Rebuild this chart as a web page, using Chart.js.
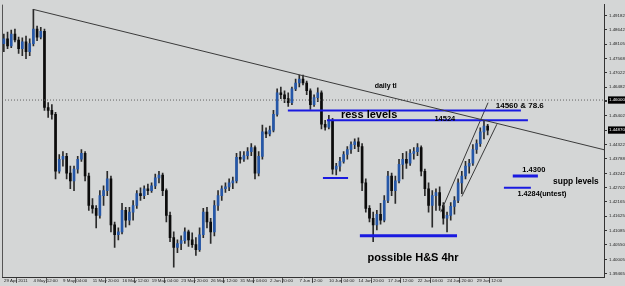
<!DOCTYPE html>
<html>
<head>
<meta charset="utf-8">
<title>EURUSD H4</title>
<script src="https://cdn.jsdelivr.net/npm/chart.js@4.4.1/dist/chart.umd.min.js"></script>
<style>
  html, body { margin: 0; padding: 0; background: #d4d6d6; }
  canvas { display: block; }
</style>
</head>
<body>
<canvas id="chart" width="625" height="286"></canvas>
<script>
// candles, one per 8h slot (x = slot index)
const opens = [
  1.4812, 1.4830, 1.4804, 1.4848, 1.4826, 1.4793, 1.4819, 1.4782, 1.4812, 1.4867,
  1.4837, 1.4859, 1.4572, 1.4561, 1.4546, 1.4332, 1.4377, 1.4388, 1.4325, 1.4296,
  1.4340, 1.4377, 1.4399, 1.4314, 1.4203, 1.4192, 1.4166, 1.4240, 1.4259, 1.4303,
  1.4130, 1.4093, 1.4104, 1.4185, 1.4148, 1.4178, 1.4203, 1.4248, 1.4240, 1.4266,
  1.4259, 1.4277, 1.4307, 1.4318, 1.4259, 1.4166, 1.4082, 1.4045, 1.4060, 1.4071,
  1.4104, 1.4074, 1.4056, 1.4037, 1.4093, 1.4178, 1.4141, 1.4104, 1.4203, 1.4240,
  1.4266, 1.4273, 1.4288, 1.4296, 1.4384, 1.4377, 1.4391, 1.4406, 1.4421, 1.4325,
  1.4388, 1.4480, 1.4472, 1.4487, 1.4546, 1.4627, 1.4620, 1.4605, 1.4590, 1.4642,
  1.4664, 1.4679, 1.4664, 1.4635, 1.4583, 1.4609, 1.4627, 1.4509, 1.4498, 1.4524,
  1.4340, 1.4351, 1.4369, 1.4395, 1.4414, 1.4432, 1.4443, 1.4425, 1.4288, 1.4192,
  1.4155, 1.4130, 1.4170, 1.4148, 1.4222, 1.4314, 1.4259, 1.4296, 1.4358, 1.4377,
  1.4362, 1.4399, 1.4406, 1.4421, 1.4332, 1.4266, 1.4203, 1.4240, 1.4252, 1.4203,
  1.4155, 1.4166, 1.4200, 1.4222, 1.4288, 1.4314, 1.4351, 1.4362, 1.4414, 1.4436,
  1.4480, 1.4502
];
const highs = [
  1.4848, 1.4856, 1.4863, 1.4867, 1.4837, 1.4834, 1.4841, 1.4830, 1.4941, 1.4878,
  1.4874, 1.4867, 1.4590, 1.4583, 1.4554, 1.4395, 1.4406, 1.4399, 1.4351, 1.4351,
  1.4388, 1.4414, 1.4406, 1.4325, 1.4229, 1.4203, 1.4259, 1.4277, 1.4332, 1.4314,
  1.4141, 1.4119, 1.4211, 1.4196, 1.4196, 1.4222, 1.4259, 1.4270, 1.4277, 1.4284,
  1.4288, 1.4321, 1.4332, 1.4325, 1.4266, 1.4178, 1.4104, 1.4074, 1.4089, 1.4119,
  1.4111, 1.4100, 1.4082, 1.4119, 1.4192, 1.4196, 1.4155, 1.4222, 1.4259, 1.4277,
  1.4288, 1.4303, 1.4310, 1.4399, 1.4406, 1.4406, 1.4421, 1.4436, 1.4428, 1.4406,
  1.4506, 1.4495, 1.4502, 1.4561, 1.4642, 1.4649, 1.4635, 1.4627, 1.4649, 1.4679,
  1.4694, 1.4694, 1.4671, 1.4642, 1.4620, 1.4646, 1.4635, 1.4524, 1.4542, 1.4531,
  1.4362, 1.4384, 1.4406, 1.4425, 1.4443, 1.4454, 1.4458, 1.4436, 1.4303, 1.4203,
  1.4178, 1.4185, 1.4211, 1.4240, 1.4332, 1.4325, 1.4314, 1.4377, 1.4399, 1.4406,
  1.4414, 1.4421, 1.4436, 1.4428, 1.4340, 1.4288, 1.4259, 1.4266, 1.4273, 1.4214,
  1.4178, 1.4214, 1.4237, 1.4303, 1.4332, 1.4369, 1.4377, 1.4432, 1.4450, 1.4495,
  1.4524, 1.4509
];
const lows = [
  1.4782, 1.4793, 1.4797, 1.4819, 1.4775, 1.4767, 1.4756, 1.4767, 1.4804, 1.4823,
  1.4830, 1.4561, 1.4535, 1.4528, 1.4303, 1.4325, 1.4351, 1.4303, 1.4266, 1.4259,
  1.4325, 1.4369, 1.4296, 1.4185, 1.4174, 1.4119, 1.4155, 1.4203, 1.4240, 1.4104,
  1.4045, 1.4074, 1.4096, 1.4122, 1.4130, 1.4148, 1.4192, 1.4222, 1.4229, 1.4244,
  1.4252, 1.4266, 1.4288, 1.4240, 1.4141, 1.4067, 1.3971, 1.4026, 1.4037, 1.4060,
  1.4049, 1.4045, 1.4015, 1.4030, 1.4082, 1.4119, 1.4060, 1.4089, 1.4185, 1.4222,
  1.4252, 1.4259, 1.4266, 1.4288, 1.4362, 1.4369, 1.4377, 1.4391, 1.4303, 1.4314,
  1.4377, 1.4458, 1.4465, 1.4480, 1.4539, 1.4605, 1.4590, 1.4576, 1.4583, 1.4635,
  1.4649, 1.4657, 1.4620, 1.4565, 1.4576, 1.4594, 1.4491, 1.4487, 1.4491, 1.4321,
  1.4318, 1.4332, 1.4362, 1.4377, 1.4399, 1.4417, 1.4406, 1.4259, 1.4178, 1.4141,
  1.4067, 1.4111, 1.4133, 1.4141, 1.4214, 1.4240, 1.4211, 1.4288, 1.4303, 1.4343,
  1.4354, 1.4377, 1.4391, 1.4314, 1.4240, 1.4178, 1.4122, 1.4185, 1.4185, 1.4133,
  1.4104, 1.4148, 1.4170, 1.4214, 1.4248, 1.4303, 1.4325, 1.4354, 1.4399, 1.4425,
  1.4454, 1.4469
];
const closes = [
  1.4830, 1.4804, 1.4848, 1.4826, 1.4793, 1.4819, 1.4782, 1.4812, 1.4867, 1.4837,
  1.4859, 1.4572, 1.4561, 1.4546, 1.4332, 1.4377, 1.4388, 1.4325, 1.4296, 1.4340,
  1.4377, 1.4399, 1.4314, 1.4203, 1.4192, 1.4166, 1.4240, 1.4259, 1.4303, 1.4130,
  1.4093, 1.4104, 1.4185, 1.4148, 1.4178, 1.4203, 1.4248, 1.4240, 1.4266, 1.4259,
  1.4277, 1.4307, 1.4318, 1.4259, 1.4166, 1.4082, 1.4045, 1.4060, 1.4071, 1.4104,
  1.4074, 1.4056, 1.4037, 1.4093, 1.4178, 1.4141, 1.4104, 1.4203, 1.4240, 1.4266,
  1.4273, 1.4288, 1.4296, 1.4384, 1.4377, 1.4391, 1.4406, 1.4421, 1.4325, 1.4388,
  1.4480, 1.4472, 1.4487, 1.4546, 1.4627, 1.4620, 1.4605, 1.4590, 1.4642, 1.4664,
  1.4679, 1.4664, 1.4635, 1.4583, 1.4609, 1.4627, 1.4509, 1.4498, 1.4524, 1.4340,
  1.4351, 1.4369, 1.4395, 1.4414, 1.4432, 1.4443, 1.4425, 1.4288, 1.4192, 1.4155,
  1.4130, 1.4170, 1.4148, 1.4222, 1.4314, 1.4259, 1.4296, 1.4358, 1.4377, 1.4362,
  1.4399, 1.4406, 1.4421, 1.4332, 1.4266, 1.4203, 1.4240, 1.4252, 1.4203, 1.4155,
  1.4166, 1.4200, 1.4222, 1.4288, 1.4314, 1.4351, 1.4362, 1.4414, 1.4436, 1.4480,
  1.4502, 1.4487
];

// one time label every 8 slots
const timeLabels = ['29 Apr 2011', '4 May 12:00', '9 May 04:00', '11 May 20:00', '16 May 12:00',
  '19 May 04:00', '23 May 20:00', '26 May 12:00', '31 May 04:00', '2 Jun 20:00', '7 Jun 12:00',
  '10 Jun 04:00', '14 Jun 20:00', '17 Jun 12:00', '22 Jun 04:00', '24 Jun 20:00', '29 Jun 12:00'];
const priceTicks = [1.49182, 1.48642, 1.48105, 1.47568, 1.47022, 1.46482, 1.45942, 1.45402,
  1.44322, 1.43788, 1.43242, 1.42702, 1.42165, 1.41625, 1.41085, 1.40550, 1.40005, 1.39465];
const markedPrices = [1.46000, 1.44870];

// drawn lines, [slot, price] pairs
const dailyTrend = [[8.5, 1.4941], [163, 1.4413]];
const dottedLevel = [[0, 1.4600], [163, 1.4600]];
const ressUpper = [[77.4, 1.4561], [140.5, 1.4561]];
const ressLower = [[88.0, 1.4524], [142.4, 1.4524]];
const shoulderLine = [[86.9, 1.4307], [93.7, 1.4307]];
const necklineLow = [[96.9, 1.4089], [123.2, 1.4089]];
const channelLeft = [[118.8, 1.4178], [131.6, 1.4590]];
const channelRight = [[124.5, 1.4237], [134.0, 1.4509]];
const supp1 = [[138.3, 1.4314], [145.1, 1.4314]];
const supp2 = [[135.9, 1.4270], [143.2, 1.4270]];

const notes = [
  { text: 'daily tl', x: 103.9, y: 1.4653, size: 7 },
  { text: 'ress levels', x: 99.4, y: 1.4542, size: 11 },
  { text: '14560 & 78.6', x: 140.2, y: 1.4579, size: 8 },
  { text: '14524', x: 119.9, y: 1.4528, size: 7.5 },
  { text: 'possible H&S 4hr', x: 111.3, y: 1.4004, size: 11 },
  { text: '1.4300', x: 144.0, y: 1.4336, size: 7.5 },
  { text: 'supp levels', x: 155.4, y: 1.4292, size: 8.4 },
  { text: '1.4284(untest)', x: 146.2, y: 1.4248, size: 7.3 }
];

const wickData = closes.map((c, i) => ({ x: i + 0.5, y: [lows[i], highs[i]] }));
const bodyData = closes.map((c, i) => ({ x: i + 0.5, y: [opens[i], c] }));
const bodyColors = closes.map((c, i) => c >= opens[i] ? '#2557a8' : '#0c0c0c');

function seg(pts) {
  return pts.map(p => ({ x: p[0], y: p[1] }));
}

function lineSet(pts, color, width, dash) {
  return {
    type: 'line',
    data: seg(pts),
    borderColor: color,
    borderWidth: width,
    borderDash: dash || [],
    pointRadius: 0,
    fill: false,
    tension: 0,
    order: 0
  };
}

const bgPlugin = {
  id: 'bg',
  beforeDraw(chart) {
    const { ctx, chartArea } = chart;
    ctx.save();
    ctx.fillStyle = '#d4d6d6';
    ctx.fillRect(0, 0, chart.width, chart.height);
    ctx.strokeStyle = '#555';
    ctx.lineWidth = 1;
    ctx.beginPath();
    ctx.moveTo(chartArea.left + 0.5, chartArea.top);
    ctx.lineTo(chartArea.left + 0.5, chartArea.bottom);
    ctx.stroke();
    ctx.restore();
  }
};

const notesPlugin = {
  id: 'notes',
  afterDatasetsDraw(chart) {
    const { ctx, scales: { x, y } } = chart;
    ctx.save();
    ctx.fillStyle = '#000';
    ctx.textAlign = 'center';
    ctx.textBaseline = 'middle';
    notes.forEach(n => {
      ctx.font = 'bold ' + n.size + 'px "Liberation Sans", Arial, sans-serif';
      ctx.fillText(n.text, x.getPixelForValue(n.x), y.getPixelForValue(n.y));
    });
    ctx.restore();
  }
};

const tickFont = { family: '"Liberation Sans", Arial, sans-serif', size: 4.4 };

new Chart(document.getElementById('chart'), {
  type: 'bar',
  data: {
    datasets: [
      lineSet(dailyTrend, '#3a3a3a', 1),
      lineSet(dottedLevel, '#606060', 1, [1, 2]),
      lineSet(ressUpper, '#1a1ae0', 2),
      lineSet(ressLower, '#1a1ae0', 2),
      lineSet(shoulderLine, '#1a1ae0', 2),
      lineSet(necklineLow, '#1a1ae0', 3),
      lineSet(channelLeft, '#3a3a3a', 1),
      lineSet(channelRight, '#3a3a3a', 1),
      lineSet(supp1, '#1a1ae0', 3),
      lineSet(supp2, '#1a1ae0', 2),
      {
        label: 'body',
        data: bodyData,
        backgroundColor: bodyColors,
        barThickness: 2,
        minBarLength: 1,
        grouped: false,
        order: 1
      },
      {
        label: 'wick',
        data: wickData,
        backgroundColor: '#2a2a2a',
        barThickness: 1,
        grouped: false,
        order: 2
      }
    ]
  },
  options: {
    responsive: false,
    devicePixelRatio: 1,
    animation: false,
    events: [],
    layout: { padding: { left: 2, top: 0, right: 0, bottom: 0 } },
    plugins: {
      legend: { display: false },
      tooltip: { enabled: false }
    },
    scales: {
      x: {
        type: 'linear',
        min: 0,
        max: 163,
        offset: false,
        afterBuildTicks(scale) {
          scale.ticks = timeLabels.map((t, k) => ({ value: k * 8 }));
        },
        afterFit(scale) { scale.height = 9; },
        ticks: {
          autoSkip: false,
          maxRotation: 0,
          align: 'start',
          labelOffset: 2,
          padding: -5,
          color: '#222',
          font: tickFont,
          callback: (v) => timeLabels[Math.round(v / 8)]
        },
        grid: { drawOnChartArea: false, tickLength: 6, color: '#555' },
        border: { color: '#333' }
      },
      y: {
        position: 'right',
        min: 1.3934,
        max: 1.4959,
        afterBuildTicks(scale) {
          scale.ticks = priceTicks.concat(markedPrices).map(v => ({ value: v }));
        },
        afterFit(scale) { scale.width = 21; },
        ticks: {
          autoSkip: false,
          padding: 2,
          font: tickFont,
          color: (ctx) => markedPrices.includes(ctx.tick.value) ? '#fff' : '#222',
          showLabelBackdrop: (ctx) => markedPrices.includes(ctx.tick.value),
          backdropColor: '#000',
          backdropPadding: 1,
          callback: (v) => v.toFixed(5)
        },
        grid: { drawOnChartArea: false, tickLength: 3, color: '#333' },
        border: { color: '#333' }
      }
    }
  },
  plugins: [bgPlugin, notesPlugin]
});
</script>
</body>
</html>
